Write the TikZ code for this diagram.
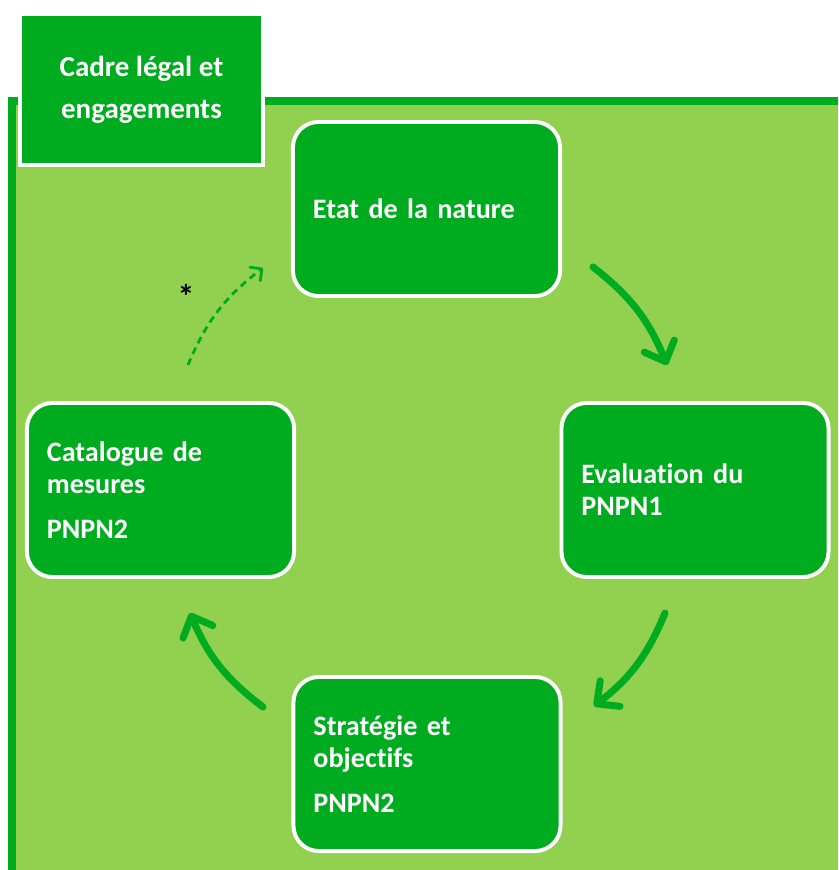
\documentclass[tikz,border=0pt]{standalone}
\usepackage{fontspec}
\setmainfont[Ligatures=NoCommon]{Carlito}
\definecolor{pngreen}{RGB}{0,172,31}
\definecolor{pnlight}{RGB}{146,208,80}
\usetikzlibrary{arrows.meta,positioning}

\begin{document}
\begin{tikzpicture}[x=0.025cm, y=0.025cm,
  tbox/.style={rectangle, draw=white, line width=2.2pt, fill=pngreen,
               minimum width=6.075cm, minimum height=3.775cm,
               font=\fontsize{20.6}{29.8}\selectfont\bfseries, align=center, text=white},
  sbox/.style={rectangle, rounded corners=18pt, draw=white, line width=2.8pt,
               fill=pngreen, text width=5.675cm, inner xsep=0.5cm,
               minimum height=4.35cm, font=\fontsize{20}{22.7}\selectfont\bfseries,
               align=left, text=white},
  arr/.style={-{Straight Barb[length=12pt, width=23pt, round]}, line width=5pt,
              draw=pngreen, line cap=round, bend left=15},
  darr/.style={-{Straight Barb[length=6pt, width=12pt, round]}, line width=2pt,
               draw=pngreen, dash pattern=on 5pt off 3.5pt, bend left=15}
]
\useasboundingbox (0,0) rectangle (838,-870);

% Background panel
\fill[pnlight] (8,-98) rectangle (838,-870);
\draw[pngreen, line width=5.5pt] (12,-870) -- (12,-101) -- (838,-101);

% Title box
\node[tbox] (cadre) at (141.5,-89.5) {Cadre légal et\\engagements};

% Cycle nodes
\node[sbox] (etat)  at (426.5,-209) {Etat de la nature};
\node[sbox] (eval)  at (695,-490)   {Evaluation du\\PNPN1};
\node[sbox] (strat) at (427,-764)   {Stratégie et\\objectifs\\[9pt]PNPN2};
\node[sbox] (catal) at (160.5,-490) {Catalogue de\\mesures\\[9pt]PNPN2};

% Arrow ends
\coordinate (a1) at (593,-267);  \coordinate (b1) at (667,-365);
\coordinate (a2) at (665,-613);  \coordinate (b2) at (594,-706);
\coordinate (a3) at (263,-707);  \coordinate (b3) at (190,-613);
\coordinate (a4) at (188,-365);  \coordinate (b4) at (263,-268);

% Arrows
\draw[arr]  (a1) to (b1);
\draw[arr]  (a2) to (b2);
\draw[arr]  (a3) to (b3);
\draw[darr] (a4) to (b4);
\node[font=\fontsize{24}{26}\selectfont\bfseries] (star) at (186,-296) {*};
\end{tikzpicture}
\end{document}
